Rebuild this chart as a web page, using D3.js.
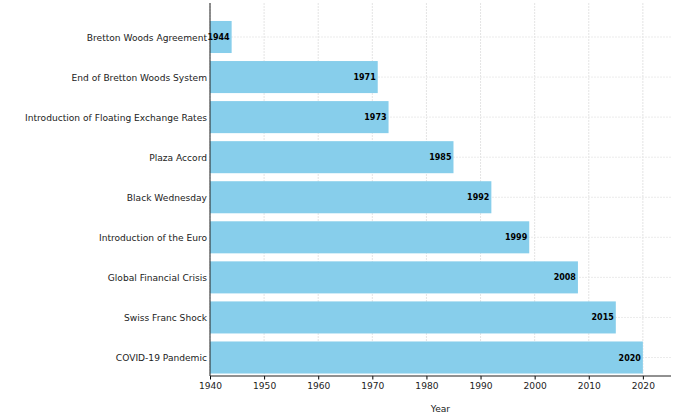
<!DOCTYPE html><html><head><meta charset="utf-8"><script src="https://cdn.jsdelivr.net/npm/d3@7"></script>
<style>body{margin:0;background:#fff}text{font-family:"DejaVu Sans",sans-serif}</style></head><body><svg id="c" width="695" height="415"></svg>
<script>
const events=["Bretton Woods Agreement","End of Bretton Woods System","Introduction of Floating Exchange Rates","Plaza Accord","Black Wednesday","Introduction of the Euro","Global Financial Crisis","Swiss Franc Shock","COVID-19 Pandemic"];
const years=[1944,1971,1973,1985,1992,1999,2008,2015,2020];
const xTicks=[1940,1950,1960,1970,1980,1990,2000,2010,2020];
const svg=d3.select("#c");
const L=210,R=671,T=3,B=376;
const x=d3.scaleLinear().domain([1940,2025.2]).range([L,R]);
const y=d3.scaleLinear().domain([0,8]).range([37,357.5]);
const g=svg.append("g");
xTicks.forEach(t=>g.append("line").attr("x1",x(t)).attr("x2",x(t)).attr("y1",T).attr("y2",B).attr("stroke","#ddd").attr("stroke-width",0.8).attr("stroke-dasharray","2,1"));
events.forEach((e,i)=>g.append("line").attr("x1",L).attr("x2",R).attr("y1",y(i)).attr("y2",y(i)).attr("stroke","#e6e6e6").attr("stroke-width",0.8).attr("stroke-dasharray","2,1"));
const h=y(0.4)-y(-0.4);
g.selectAll("rect").data(years).join("rect").attr("x",L).attr("y",(d,i)=>y(i)-h/2).attr("width",d=>x(d)-L).attr("height",h).attr("fill","#87ceeb");
g.selectAll("text.v").data(years).join("text").attr("class","v").attr("x",d=>x(d)-2).attr("y",(d,i)=>y(i)+3).attr("text-anchor","end").attr("font-size",8).attr("font-weight","bold").text(d=>d);
g.selectAll("text.c").data(events).join("text").attr("class","c").attr("x",L-3).attr("y",(d,i)=>y(i)+3.5).attr("text-anchor","end").attr("font-size",9.1).attr("fill","#222").text(d=>d);
const xa=svg.append("g").attr("transform",`translate(0,${B})`).call(d3.axisBottom(x).tickValues(xTicks).tickFormat(d3.format("d")).tickSize(3.5));
xa.select(".domain").remove();
xa.selectAll("text").attr("font-size",9.1).attr("fill","#222").attr("dy","0.75em");
svg.append("line").attr("x1",L).attr("x2",R).attr("y1",B).attr("y2",B).attr("stroke","#222");
svg.append("line").attr("x1",L).attr("x2",L).attr("y1",T).attr("y2",B).attr("stroke","#222");
svg.append("text").attr("x",(L+R)/2).attr("y",412).attr("text-anchor","middle").attr("font-size",9.1).attr("fill","#222").text("Year");
</script></body></html>
